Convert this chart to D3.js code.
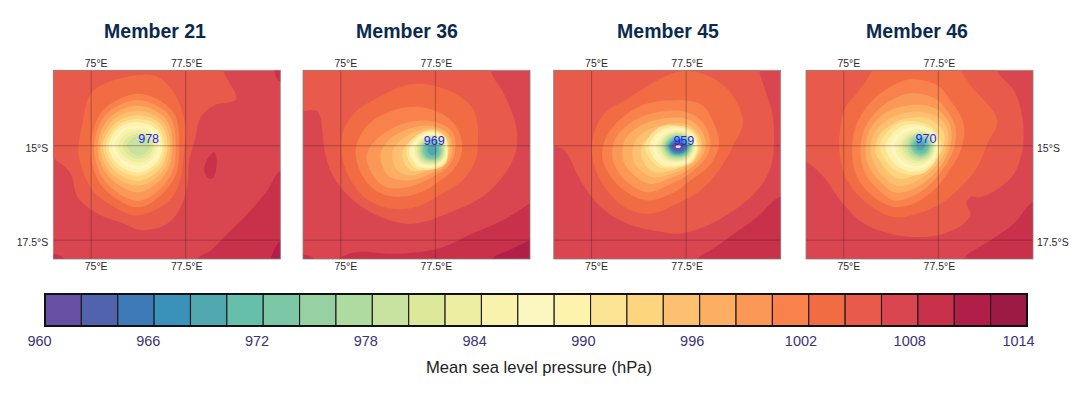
<!DOCTYPE html>
<html><head><meta charset="utf-8">
<script src="https://cdn.jsdelivr.net/npm/d3@7"></script>
<style>html,body{margin:0;padding:0;background:#fff}svg{display:block}text{font-family:"Liberation Sans",Arial,sans-serif}</style>
</head><body><svg id="c" width="1090" height="397"></svg>
<script>
const memberNames=["Member 21","Member 36","Member 45","Member 46"];
const minPressures=[978,969,959,970];
const minLabelLon=[76.52,77.47,77.44,77.17];
const minLabelLat=[-14.82,-14.86,-14.86,-14.82];
const lonTicks=[75,77.5];
const latTicks=[-15,-17.5];
const barTicks=[960,966,972,978,984,990,996,1002,1008,1014];
const binColors=["#6650a4","#5263ae","#3f7ab8","#3a92bb","#52a8b0","#65bfa9","#7cc8a6","#96d0a3","#b0dba0","#c8e2a0","#dde89a","#eeeea3","#f9f2ac","#fcf6c0","#fdf3ad","#fde494","#fed57f","#fdc070","#fcae62","#fb9858","#f8814c","#f26c43","#e85a4a","#da4650","#c93049","#b11e47","#9c1a44"];
const ambientBin=1006;

// closed isobar outlines: bin = lower pressure of the filled band, points = [lon,lat]
const outlines21=[
{bin:1008,pts:[[77.81,-18],[78.17,-17.77],[78.6,-17.33],[79.14,-16.8],[79.66,-16.18],[80.02,-15.65],[81,-15.5],[81,-18.6],[77.7,-18.6]]},
{bin:1008,pts:[[78.25,-15.17],[78.32,-15.39],[78.24,-15.83],[78.12,-15.87],[77.99,-15.65],[78.08,-15.34]]},
{bin:1008,pts:[[79.85,-13],[80,-13.3],[80.3,-13.2],[80.2,-12.8]]},
{bin:1008,pts:[[73.9,-17.85],[74.3,-18],[74.2,-18.2],[73.8,-18.2]]},
{bin:1010,pts:[[80.02,-17.5],[79.75,-18],[79.8,-18.3],[80.4,-18.3],[80.4,-17.4]]},
{bin:1004,pts:[[78.49,-13.02],[78.83,-13.76],[78.25,-13.93],[77.9,-14.24],[77.74,-14.86],[77.59,-15.39],[77.55,-16],[77.37,-16.62],[77.02,-17.06],[76.31,-17.24],[75.87,-17.06],[75.17,-16.8],[74.64,-16.36],[74.46,-15.74],[74.02,-15.34],[73.5,-14.95],[73.5,-12.5],[78.4,-12.5]]},
{bin:1002,pts:[[74.99,-13.62],[75.52,-13.29],[76.67,-13.14],[77.15,-13.54],[77.37,-13.98],[77.49,-14.51],[77.46,-15.12],[77.37,-15.83],[77.15,-16.36],[76.67,-16.71],[76.14,-16.84],[75.61,-16.62],[75.08,-16.23],[74.77,-15.65],[74.66,-15.12],[74.77,-14.42]]}
];
const centre21=[76.27,-15];
// rings round the centre: band, radius in degrees to N,NE,E,SE,S,SW,W,NW
const rings21=[
{bin:1000,r:[1.38,1.27,1.06,1.28,1.63,1.44,1.28,1.34]},
{bin:998,r:[1.21,1.13,.97,1.15,1.46,1.30,1.19,1.21]},
{bin:996,r:[1.06,1.00,.88,1.01,1.23,1.15,1.10,1.08]},
{bin:994,r:[.93,.90,.82,.91,1.06,1.04,1.03,.97]},
{bin:992,r:[.81,.81,.75,.81,.93,.93,.96,.87]},
{bin:990,r:[.71,.72,.68,.72,.79,.83,.88,.78]},
{bin:988,r:[.62,.64,.62,.64,.71,.74,.81,.71]},
{bin:986,r:[.53,.57,.56,.57,.62,.65,.73,.63]},
{bin:984,r:[.46,.50,.50,.50,.53,.56,.64,.55]},
{bin:982,r:[.39,.43,.44,.43,.44,.47,.56,.46]},
{bin:980,r:[.32,.35,.37,.35,.35,.37,.44,.36]},
{bin:978,r:[.25,.26,.29,.26,.26,.27,.33,.26]}
];

const outlines36=[
{bin:1008,pts:[[80,-16.53],[79.27,-16.98],[78.47,-17.33],[77.59,-17.72],[76.45,-17.86],[75.48,-17.81],[75.12,-17.9],[74.95,-18],[74.9,-18.5],[81,-18.5],[81,-16]]},
{bin:1008,pts:[[73.9,-17.88],[74.3,-18],[74.2,-18.2],[73.8,-18.2]]},
{bin:1010,pts:[[80,-17.5],[79.44,-17.77],[79,-18],[79,-18.5],[81,-18.5],[81,-17]]},
{bin:1004,pts:[[78.96,-13.02],[79.31,-13.62],[79.62,-14.42],[79.66,-14.86],[79.58,-15.3],[79.27,-15.83],[78.74,-16.36],[78.03,-16.71],[76.98,-17.06],[76.45,-17.02],[75.56,-16.62],[74.86,-15.92],[74.59,-15.21],[74.51,-14.59],[74.46,-14.24],[74.37,-14.07],[74.01,-14.07],[73.5,-14.07],[73.5,-12.5],[79,-12.5]]},
{bin:1002,pts:[[76.01,-13.71],[76.71,-13.4],[77.33,-13.38],[78.03,-13.62],[78.47,-13.98],[78.61,-14.42],[78.62,-14.95],[78.56,-15.39],[78.21,-15.92],[77.68,-16.27],[76.98,-16.62],[76.36,-16.67],[75.74,-16.45],[75.26,-15.92],[75.04,-15.3],[75.04,-14.68],[75.34,-14.15]]},
{bin:1000,pts:[[75.39,-15.12],[75.74,-14.42],[76.71,-13.98],[77.5,-14.07],[78.03,-14.46],[78.21,-15.04],[78.03,-15.56],[77.5,-16.01],[76.89,-16.31],[76.18,-16.31],[75.65,-15.92]]},
{bin:998,pts:[[75.68,-15.26],[76.01,-14.77],[76.8,-14.37],[77.5,-14.37],[77.95,-14.64],[78.03,-15.08],[77.86,-15.52],[77.42,-15.83],[76.8,-16.09],[76.18,-16.09],[75.83,-15.74]]},
{bin:996,pts:[[76.05,-15.21],[76.31,-14.81],[76.89,-14.52],[77.5,-14.49],[77.87,-14.73],[77.95,-15.12],[77.77,-15.52],[77.37,-15.74],[76.8,-15.92],[76.31,-15.83],[76.11,-15.56]]},
{bin:994,pts:[[76.36,-15.17],[76.58,-14.86],[77.02,-14.61],[77.5,-14.55],[77.83,-14.77],[77.88,-15.12],[77.72,-15.49],[77.33,-15.65],[76.84,-15.78],[76.49,-15.65]]},
{bin:992,pts:[[76.62,-15.17],[76.8,-14.9],[77.11,-14.68],[77.5,-14.59],[77.79,-14.81],[77.84,-15.12],[77.68,-15.46],[77.33,-15.58],[76.93,-15.67],[76.71,-15.52]]}
];
const centre36=[77.42,-15.12];
const rings36=[
{bin:990,r:[.53,.49,.41,.49,.51,.66,.69,.57]},
{bin:988,r:[.49,.45,.40,.45,.47,.58,.62,.52]},
{bin:986,r:[.45,.42,.38,.42,.44,.53,.56,.48]},
{bin:984,r:[.42,.40,.37,.40,.41,.48,.50,.44]},
{bin:982,r:[.39,.37,.35,.37,.38,.44,.46,.41]},
{bin:980,r:[.36,.35,.33,.35,.35,.40,.41,.38]},
{bin:978,r:[.33,.32,.31,.32,.32,.36,.37,.35]},
{bin:976,r:[.30,.29,.28,.29,.29,.32,.33,.31]},
{bin:974,r:[.27,.26,.25,.26,.26,.28,.29,.28]},
{bin:972,r:[.23,.23,.22,.23,.23,.24,.25,.24]},
{bin:970,r:[.19,.19,.18,.19,.19,.20,.20,.19]},
{bin:968,r:[.13,.13,.13,.13,.13,.13,.13,.13]}
];

const outlines45=[
{bin:1008,pts:[[79.97,-16.36],[79.38,-16.89],[78.77,-17.33],[78.15,-17.77],[77.8,-18],[77.7,-18.5],[81,-18.5],[81,-16.2]]},
{bin:1004,pts:[[79.43,-13.02],[79.6,-13.54],[79.78,-14.15],[79.82,-14.95],[79.74,-15.56],[79.38,-16.18],[78.77,-16.71],[77.97,-17.15],[77.27,-17.33],[76.83,-17.28],[75.94,-17.06],[75.24,-16.62],[74.71,-15.92],[74.36,-15.21],[74.22,-15.08],[73.97,-15],[73.5,-15],[73.5,-12.5],[79.4,-12.5]]},
{bin:1002,pts:[[75.94,-13.76],[77,-13.14],[77.44,-13.02],[77.97,-13.1],[78.59,-13.49],[78.94,-14.07],[79,-14.42],[78.77,-14.95],[78.37,-15.65],[77.88,-16.18],[77.27,-16.53],[76.56,-16.8],[75.86,-16.62],[75.24,-15.92],[75.02,-15.3],[75.06,-14.68],[75.33,-14.15]]},
{bin:1000,pts:[[75.28,-15.3],[75.41,-14.73],[75.94,-14.15],[76.65,-13.84],[77.88,-13.89],[78.24,-14.42],[78.37,-14.95],[78.15,-15.48],[77.62,-15.92],[77.18,-16.23],[76.47,-16.45],[75.86,-16.18],[75.46,-15.74]]},
{bin:998,pts:[[75.55,-15.3],[75.63,-14.81],[76.12,-14.33],[76.74,-14.11],[77.53,-14.11],[77.97,-14.42],[78.15,-14.95],[77.97,-15.39],[77.53,-15.78],[77.09,-16.01],[76.47,-16.23],[75.94,-15.96],[75.68,-15.65]]},
{bin:996,pts:[[75.81,-15.26],[75.9,-14.81],[76.3,-14.46],[76.83,-14.29],[77.53,-14.29],[77.88,-14.55],[78.02,-14.99],[77.84,-15.39],[77.44,-15.7],[77.05,-15.87],[76.56,-16.01],[76.12,-15.78],[75.9,-15.52]]},
{bin:994,pts:[[76.08,-15.21],[76.16,-14.86],[76.47,-14.59],[76.91,-14.44],[77.49,-14.42],[77.81,-14.64],[77.93,-15.04],[77.75,-15.39],[77.4,-15.63],[77,-15.78],[76.6,-15.83],[76.3,-15.65],[76.12,-15.43]]},
{bin:992,pts:[[76.3,-15.17],[76.38,-14.9],[76.69,-14.68],[77.09,-14.53],[77.49,-14.49],[77.78,-14.7],[77.87,-15.05],[77.71,-15.34],[77.37,-15.56],[77,-15.68],[76.69,-15.7],[76.43,-15.52]]}
];
const centre45=[77.29,-15.02];
const rings45=[
{bin:990,r:[.55,.55,.53,.55,.55,.75,.88,.71]},
{bin:988,r:[.51,.51,.50,.51,.51,.67,.77,.62]},
{bin:986,r:[.47,.47,.47,.47,.47,.59,.67,.55]},
{bin:984,r:[.44,.44,.45,.44,.43,.53,.59,.49]},
{bin:982,r:[.41,.41,.43,.41,.40,.47,.52,.44]},
{bin:980,r:[.38,.38,.40,.38,.37,.43,.47,.41]},
{bin:978,r:[.35,.36,.38,.36,.34,.39,.43,.38]},
{bin:976,r:[.32,.33,.36,.33,.31,.35,.39,.34]},
{bin:974,r:[.29,.31,.34,.31,.28,.32,.36,.31]},
{bin:972,r:[.27,.28,.32,.28,.26,.29,.33,.28]},
{bin:970,r:[.24,.26,.29,.26,.23,.26,.30,.26]},
{bin:968,r:[.22,.23,.27,.23,.21,.24,.27,.23]},
{bin:966,r:[.20,.21,.24,.21,.19,.21,.24,.21]},
{bin:964,r:[.17,.18,.21,.18,.16,.18,.21,.18]},
{bin:962,r:[.14,.15,.18,.15,.13,.15,.18,.15]},
{bin:960,r:[.11,.12,.14,.12,.10,.12,.14,.12]},
{bin:958,r:[.035,.05,.07,.05,.035,.05,.07,.05]}
];

const outlines46=[
{bin:1008,pts:[[80,-16.49],[79.5,-17.06],[78.88,-17.5],[78.17,-18],[78.1,-18.5],[81,-18.5],[81,-16.3]]},
{bin:1004,pts:[[79.06,-13.02],[79.5,-13.54],[79.72,-14.24],[79.72,-15.12],[79.5,-15.74],[79.14,-16.09],[78.62,-16.36],[78.35,-16.36],[78.24,-16.53],[78.35,-16.8],[78.17,-17.06],[77.65,-17.33],[76.94,-17.42],[76.23,-17.33],[75.53,-17.06],[74.91,-16.45],[74.47,-15.83],[74.01,-15.43],[73.5,-15.3],[73.5,-12.5],[79.1,-12.5]]},
{bin:1002,pts:[[75.04,-13.98],[75.4,-13.54],[75.75,-13.02],[75.85,-12.8],[77.9,-12.8],[78.09,-13.02],[78.35,-13.4],[79.06,-14.33],[78.79,-14.95],[78.53,-15.56],[78.09,-16.09],[77.56,-16.53],[76.94,-16.8],[76.32,-16.89],[75.62,-16.53],[75.09,-15.92],[74.89,-15.21],[74.91,-14.51]]},
{bin:1000,pts:[[75.22,-15.21],[75.31,-14.51],[75.75,-13.8],[76.68,-13.25],[77.47,-13.4],[77.82,-13.8],[78.17,-14.42],[78.09,-15.12],[77.73,-15.74],[77.38,-16.18],[76.85,-16.53],[76.32,-16.62],[75.79,-16.36],[75.35,-15.83]]},
{bin:998,pts:[[75.44,-15.21],[75.53,-14.59],[75.93,-14.02],[76.68,-13.62],[77.38,-13.73],[77.73,-14.07],[77.95,-14.51],[77.91,-15.08],[77.6,-15.65],[77.25,-16.05],[76.76,-16.36],[76.32,-16.45],[75.84,-16.09],[75.57,-15.74]]},
{bin:996,pts:[[75.57,-15.21],[75.66,-14.64],[76.06,-14.15],[76.68,-13.93],[77.34,-13.98],[77.69,-14.24],[77.84,-14.59],[77.8,-15.08],[77.54,-15.56],[77.2,-15.92],[76.76,-16.18],[76.32,-16.23],[75.93,-15.92],[75.69,-15.61]]},
{bin:994,pts:[[75.71,-15.17],[75.79,-14.68],[76.19,-14.29],[76.72,-14.11],[77.29,-14.15],[77.63,-14.37],[77.75,-14.64],[77.71,-15.08],[77.47,-15.49],[77.16,-15.78],[76.76,-16.01],[76.37,-16.05],[76.01,-15.78],[75.81,-15.48]]},
{bin:992,pts:[[75.84,-15.17],[75.93,-14.73],[76.28,-14.42],[76.76,-14.26],[77.25,-14.29],[77.56,-14.51],[77.66,-14.73],[77.62,-15.08],[77.4,-15.43],[77.12,-15.65],[76.76,-15.83],[76.41,-15.87],[76.13,-15.65],[75.95,-15.39]]}
];
const centre46=[77.03,-15];
const rings46=[
{bin:990,r:[.62,.57,.53,.57,.75,.93,1.08,.84]},
{bin:988,r:[.55,.51,.48,.53,.67,.81,.93,.72]},
{bin:986,r:[.49,.46,.44,.48,.60,.71,.79,.62]},
{bin:984,r:[.44,.42,.41,.44,.53,.62,.69,.53]},
{bin:982,r:[.40,.39,.38,.41,.47,.53,.58,.46]},
{bin:980,r:[.36,.35,.35,.37,.41,.44,.49,.40]},
{bin:978,r:[.33,.32,.33,.34,.37,.38,.41,.35]},
{bin:976,r:[.29,.28,.29,.30,.33,.33,.34,.31]},
{bin:974,r:[.26,.25,.26,.26,.28,.27,.28,.26]},
{bin:972,r:[.22,.21,.22,.23,.24,.23,.24,.22]},
{bin:970,r:[.18,.17,.18,.19,.19,.18,.19,.18]},
{bin:968,r:[.12,.12,.12,.12,.12,.12,.12,.12]}
];

const allOutlines=[outlines21,outlines36,outlines45,outlines46];
const allCentres=[centre21,centre36,centre45,centre46];
const allRings=[rings21,rings36,rings45,rings46];

const svg=d3.select("#c");
const panelLeft=[53.3,303,553.7,806];
const panelW=227, panelTop=70.3, panelBottom=259;
const titleX=[155,407,668,917];
const binFill=b=>b<960?"#ffffff":binColors[(b-960)/2];
const curve=d3.curveCatmullRomClosed.alpha(0.5);

memberNames.forEach((name,i)=>{
  const x=d3.scaleLinear([74,80],[panelLeft[i],panelLeft[i]+panelW]);
  const y=d3.scaleLinear([-13,-18],[panelTop,panelBottom]);
  const line=d3.line().x(d=>x(d[0])).y(d=>y(d[1])).curve(curve);
  const g=svg.append("g");
  const cid="clip"+i;
  g.append("clipPath").attr("id",cid).append("rect").attr("x",x(74)).attr("y",panelTop).attr("width",panelW).attr("height",panelBottom-panelTop);
  const plot=g.append("g").attr("clip-path",`url(#${cid})`);
  plot.append("rect").attr("x",x(74)).attr("y",panelTop).attr("width",panelW).attr("height",panelBottom-panelTop).attr("fill",binFill(ambientBin));
  plot.selectAll("path.o").data(allOutlines[i]).join("path").attr("class","o")
    .attr("d",d=>line(d.pts)).attr("fill",d=>binFill(d.bin));
  const c=allCentres[i];
  const polar=r=>r.map((v,k)=>{const a=k*Math.PI/4;return [c[0]+v*Math.sin(a),c[1]+v*Math.cos(a)];});
  plot.selectAll("path.r").data(allRings[i]).join("path").attr("class","r")
    .attr("d",d=>line(polar(d.r))).attr("fill",d=>binFill(d.bin));
  // graticule
  plot.selectAll("line.v").data(lonTicks).join("line").attr("class","v")
    .attr("x1",x).attr("x2",x).attr("y1",panelTop).attr("y2",panelBottom)
    .attr("stroke","#4a1c20").attr("stroke-opacity",.42).attr("stroke-width",.9);
  plot.selectAll("line.h").data(latTicks).join("line").attr("class","h")
    .attr("y1",y).attr("y2",y).attr("x1",x(74)).attr("x2",x(80))
    .attr("stroke","#4a1c20").attr("stroke-opacity",.42).attr("stroke-width",.9);
  g.append("rect").attr("x",x(74)).attr("y",panelTop).attr("width",panelW).attr("height",panelBottom-panelTop)
    .attr("fill","none").attr("stroke","#8a8080").attr("stroke-width",.8);
  // min pressure label
  g.append("text").attr("x",x(minLabelLon[i])).attr("y",y(minLabelLat[i])).attr("dy","0.36em")
    .attr("text-anchor","middle").attr("font-size",12.5).attr("fill","#1f1fff").text(minPressures[i]);
  // title
  g.append("text").attr("x",titleX[i]).attr("y",37.5).attr("text-anchor","middle")
    .attr("font-size",19.5).attr("font-weight",700).attr("fill","#0b2a4d").text(name);
  // lon axes
  const fmtLon=d=>d+"°E";
  const styleAxis=(sel,dx,dy)=>{sel.select(".domain").remove();
    sel.selectAll("text").attr("fill","#2a2a2a").attr("font-size",10.5).attr("font-family",'"Liberation Sans",Arial,sans-serif')
      .attr("dx",dx).attr("dy",dy);};
  const top=g.append("g").attr("transform",`translate(0,${panelTop})`)
    .call(d3.axisTop(x).tickValues(lonTicks).tickFormat(fmtLon).tickSize(0));
  styleAxis(top,0,"0");
  top.selectAll("text").attr("dx",d=>d===75?4.5:0.5);
  const bot=g.append("g").attr("transform",`translate(0,${panelBottom})`)
    .call(d3.axisBottom(x).tickValues(lonTicks).tickFormat(fmtLon).tickSize(0));
  styleAxis(bot,0,"0.75em");
  bot.selectAll("text").attr("dx",d=>d===75?4.5:0.5);
  const fmtLat=d=>Math.abs(d)+"°S";
  if(i===0){
    const l=g.append("g").attr("transform",`translate(${x(74)},0)`)
      .call(d3.axisLeft(y).tickValues(latTicks).tickFormat(fmtLat).tickSize(0));
    styleAxis(l,-2,"0.5em");
  }
  if(i===3){
    const r=g.append("g").attr("transform",`translate(${x(80)},0)`)
      .call(d3.axisRight(y).tickValues(latTicks).tickFormat(fmtLat).tickSize(0));
    styleAxis(r,1,"0.5em");
  }
});

// colour bar
const barTop=294, barBottom=326;
const barX=d3.scaleLinear([960,1014],[45,1027]);
const bar=svg.append("g");
bar.selectAll("rect").data(binColors).join("rect")
  .attr("x",(d,i)=>barX(960+2*i)).attr("y",barTop)
  .attr("width",(d,i)=>barX(962+2*i)-barX(960+2*i)).attr("height",barBottom-barTop)
  .attr("fill",d=>d).attr("stroke","#1a1a1a").attr("stroke-width",1.1);
bar.append("rect").attr("x",barX(960)).attr("y",barTop).attr("width",barX(1014)-barX(960)).attr("height",barBottom-barTop)
  .attr("fill","none").attr("stroke","#111").attr("stroke-width",2);
const labelX=d3.scaleLinear([960,1014],[39,1018]);
const ax=svg.append("g").attr("transform",`translate(0,${barBottom})`)
  .call(d3.axisBottom(labelX).tickValues(barTicks).tickFormat(d3.format("d")).tickSize(0));
ax.select(".domain").remove();
ax.selectAll("text").attr("fill","#3b3471").attr("font-size",14.5).attr("font-family",'"Liberation Sans",Arial,sans-serif').attr("y",20).attr("dy","0");
svg.append("text").attr("x",539).attr("y",373).attr("text-anchor","middle").attr("font-size",16.6).attr("fill","#222").text("Mean sea level pressure (hPa)");
</script></body></html>
